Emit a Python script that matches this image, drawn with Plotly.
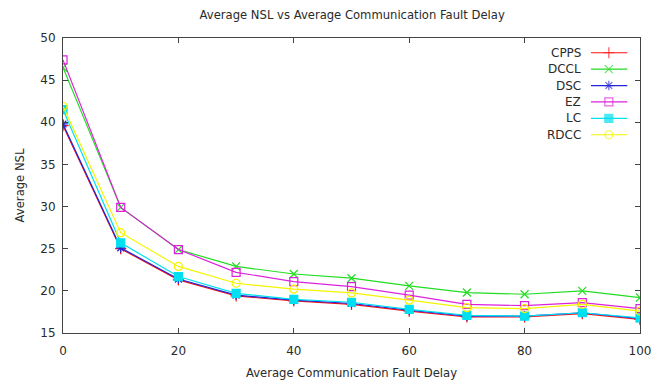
import plotly.graph_objects as go

# Average communication fault delay (x) and average NSL per scheduler
delay = [0, 10, 20, 30, 40, 50, 60, 70, 80, 90, 100]
cpps = [39.6, 25.0, 21.3, 19.4, 18.8, 18.4, 17.6, 16.9, 16.9, 17.3, 16.6]
dccl = [46.5, 29.9, 24.9, 22.9, 22.0, 21.5, 20.6, 19.8, 19.6, 20.0, 19.2]
dsc = [39.8, 25.1, 21.4, 19.5, 18.9, 18.5, 17.7, 17.0, 17.0, 17.4, 16.7]
ez = [47.4, 29.9, 24.9, 22.2, 21.1, 20.5, 19.5, 18.4, 18.25, 18.6, 17.9]
lc = [41.5, 25.7, 21.7, 19.7, 19.0, 18.65, 17.8, 17.1, 17.0, 17.4, 16.8]
rdcc = [41.9, 26.9, 22.9, 20.9, 20.2, 19.75, 18.9, 18.0, 17.9, 18.4, 17.6]

names = ["CPPS", "DCCL", "DSC", "EZ", "LC", "RDCC"]
series = [cpps, dccl, dsc, ez, lc, rdcc]
colors = ["#ff1010", "#22dd22", "#2424d8", "#dd22dd", "#00e0f0", "#f4f400"]
symbols = ["cross-thin", "x-thin", "asterisk", "square-open", "square", "circle-open"]

FONT = "DejaVu Sans"
TXT = "#2a2a2a"
fig = go.Figure()

for name, ys, col, sym in zip(names, series, colors, symbols):
    fig.add_trace(go.Scatter(
        x=delay, y=ys, name=name, mode="lines+markers",
        line=dict(color=col, width=1.2),
        marker=dict(symbol=sym, size=8, color=col,
                    line=dict(color=col, width=1.2)),
        showlegend=False,
    ))

# Key in the top-right corner: label on the left, line sample on the right
row_top, row_step = 0.950, 0.0556
for i, (name, col, sym) in enumerate(zip(names, colors, symbols)):
    yk = row_top - i * row_step
    fig.add_trace(go.Scatter(
        x=[0.915, 0.946, 0.978], y=[yk, yk, yk], xaxis="x2", yaxis="y2",
        mode="lines+markers", line=dict(color=col, width=1.2),
        marker=dict(symbol=sym, size=[0, 8, 0], color=col,
                    line=dict(color=col, width=1.2)),
        showlegend=False, hoverinfo="skip",
    ))
    fig.add_annotation(x=0.902, y=yk, xref="x2", yref="y2", text=name,
                       showarrow=False, xanchor="right", yanchor="middle",
                       font=dict(family=FONT, size=12, color=TXT))

axis_common = dict(
    showgrid=False, zeroline=False, showline=True, linecolor="#444",
    linewidth=1, mirror="allticks", ticks="inside", ticklen=5,
    tickcolor="#444", tickfont=dict(family=FONT, size=12, color=TXT),
    automargin=False,
)

fig.update_layout(
    width=667, height=383,
    margin=dict(l=63, r=27, t=38, b=50),
    paper_bgcolor="white", plot_bgcolor="white",
    title=dict(text="Average NSL vs Average Communication Fault Delay",
               x=0.528, xanchor="center", y=0.962, yanchor="middle",
               font=dict(family=FONT, size=11.6, color=TXT)),
    xaxis=dict(range=[0, 100], tickvals=[0, 20, 40, 60, 80, 100],
               ticklabelstandoff=7,
               title=dict(text="Average Communication Fault Delay",
                          font=dict(family=FONT, size=11.6, color=TXT),
                          standoff=11),
               **axis_common),
    yaxis=dict(range=[15, 50], tickvals=[15, 20, 25, 30, 35, 40, 45, 50],
               ticklabelstandoff=4,
               title=dict(text="Average NSL",
                          font=dict(family=FONT, size=11.6, color=TXT),
                          standoff=13),
               **axis_common),
    xaxis2=dict(overlaying="x", range=[0, 1], visible=False),
    yaxis2=dict(overlaying="y", range=[0, 1], visible=False),
)

fig.write_html("out.html")
